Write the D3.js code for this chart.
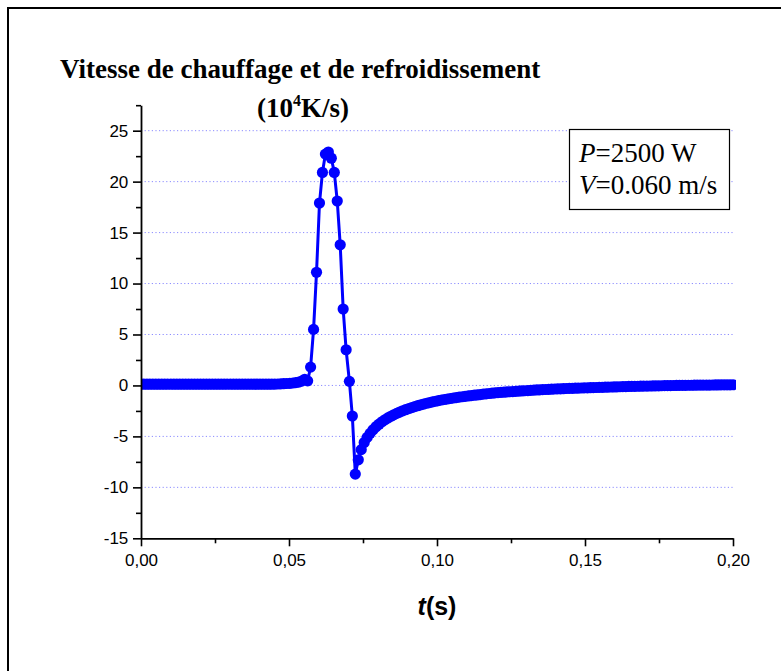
<!DOCTYPE html>
<html><head><meta charset="utf-8">
<script src="https://cdn.jsdelivr.net/npm/d3@7"></script>
<style>body{margin:0;background:#fff}</style>
</head><body>
<svg id="c" width="781" height="671"></svg>
<script>
// ---- data ----
const time = [
0,0.0010,0.0020,0.0030,0.0040,0.0050,0.0060,0.0070,0.0080,0.0090,
0.0101,0.0111,0.0121,0.0131,0.0141,0.0151,0.0161,0.0171,0.0181,0.0191,
0.0201,0.0211,0.0221,0.0231,0.0241,0.0251,0.0261,0.0271,0.0281,0.0291,
0.0302,0.0312,0.0322,0.0332,0.0342,0.0352,0.0362,0.0372,0.0382,0.0392,
0.0402,0.0412,0.0422,0.0432,0.0442,0.0452,0.0462,0.0472,0.0482,0.0492,
0.0503,0.0513,0.0523,0.0533,0.0543,0.0553,0.0563,0.0573,0.0583,0.0593,
0.0603,0.0613,0.0623,0.0633,0.0643,0.0653,0.0663,0.0673,0.0683,0.0693,
0.0704,0.0714,0.0724,0.0734,0.0744,0.0754,0.0764,0.0774,0.0784,0.0794,
0.0804,0.0814,0.0824,0.0834,0.0844,0.0854,0.0864,0.0874,0.0884,0.0894,
0.0905,0.0915,0.0925,0.0935,0.0945,0.0955,0.0965,0.0975,0.0985,0.0995,
0.1005,0.1015,0.1025,0.1035,0.1045,0.1055,0.1065,0.1075,0.1085,0.1095,
0.1106,0.1116,0.1126,0.1136,0.1146,0.1156,0.1166,0.1176,0.1186,0.1196,
0.1206,0.1216,0.1226,0.1236,0.1246,0.1256,0.1266,0.1276,0.1286,0.1296,
0.1307,0.1317,0.1327,0.1337,0.1347,0.1357,0.1367,0.1377,0.1387,0.1397,
0.1407,0.1417,0.1427,0.1437,0.1447,0.1457,0.1467,0.1477,0.1487,0.1497,
0.1508,0.1518,0.1528,0.1538,0.1548,0.1558,0.1568,0.1578,0.1588,0.1598,
0.1608,0.1618,0.1628,0.1638,0.1648,0.1658,0.1668,0.1678,0.1688,0.1698,
0.1709,0.1719,0.1729,0.1739,0.1749,0.1759,0.1769,0.1779,0.1789,0.1799,
0.1809,0.1819,0.1829,0.1839,0.1849,0.1859,0.1869,0.1879,0.1889,0.1899,
0.1910,0.1920,0.1930,0.1940,0.1950,0.1960,0.1970,0.1980,0.1990,0.2000
];
const rate = [
0.12,0.12,0.12,0.12,0.12,0.12,0.12,0.12,0.12,0.12,
0.12,0.12,0.12,0.12,0.12,0.12,0.12,0.12,0.12,0.12,
0.12,0.12,0.12,0.12,0.12,0.12,0.12,0.12,0.12,0.12,
0.12,0.12,0.12,0.12,0.12,0.12,0.12,0.12,0.12,0.12,
0.12,0.12,0.12,0.12,0.12,0.13,0.14,0.15,0.17,0.19,
0.21,0.24,0.28,0.33,0.42,0.60,0.45,1.8,5.5,11.1,
17.9,20.9,22.7,22.9,22.3,20.9,18.1,13.8,7.5,3.5,
0.4,-3.0,-8.7,-7.3,-6.3,-5.6,-5.1,-4.7,-4.35,-4.05,
-3.8,-3.57,-3.37,-3.19,-3.03,-2.88,-2.74,-2.61,-2.49,-2.38,
-2.27,-2.17,-2.08,-1.99,-1.91,-1.83,-1.75,-1.68,-1.61,-1.55,
-1.49,-1.43,-1.38,-1.33,-1.28,-1.23,-1.19,-1.15,-1.11,-1.07,
-1.03,-0.99,-0.96,-0.93,-0.90,-0.85,-0.82,-0.79,-0.76,-0.73,
-0.70,-0.68,-0.66,-0.64,-0.62,-0.60,-0.58,-0.56,-0.54,-0.52,
-0.50,-0.48,-0.46,-0.44,-0.43,-0.41,-0.40,-0.38,-0.37,-0.35,
-0.34,-0.33,-0.32,-0.30,-0.29,-0.28,-0.27,-0.26,-0.25,-0.24,
-0.23,-0.22,-0.21,-0.20,-0.19,-0.18,-0.17,-0.16,-0.155,-0.15,
-0.14,-0.13,-0.12,-0.11,-0.10,-0.095,-0.09,-0.08,-0.075,-0.07,
-0.06,-0.055,-0.05,-0.04,-0.035,-0.03,-0.02,-0.015,-0.01,-0.005,
0.0,0.005,0.01,0.015,0.02,0.02,0.025,0.03,0.03,0.035,
0.04,0.04,0.045,0.05,0.05,0.055,0.06,0.06,0.065,0.07
];
const xTicks = [0, 0.05, 0.10, 0.15, 0.20];
const xMinor = [0.025, 0.075, 0.125, 0.175];
const yTicks = [-15, -10, -5, 0, 5, 10, 15, 20, 25];
const yMinor = [-12.5, -7.5, -2.5, 2.5, 7.5, 12.5, 17.5, 22.5, 27.5];
const gridVals = [-10, -5, 0, 5, 10, 15, 20, 25];
const titleLine1 = "Vitesse de chauffage et de refroidissement";
const legendP = "2500 W";
const legendV = "0.060 m/s";

// ---- layout ----
const svg = d3.select("#c");
const X0 = 141, X1 = 733, YB = 538.3, YT = 105.2;
const x = d3.scaleLinear().domain([0, 0.2]).range([X0, X1]);
const y = d3.scaleLinear().domain([-15, 27.5]).range([YB, YT]);
const serif = "'Liberation Serif','Times New Roman',serif";
const sans = "'Liberation Sans',Arial,sans-serif";
const blue = "#0000ff";

// outer frame (top and left borders)
svg.append("line").attr("x1",8).attr("y1",8).attr("x2",781).attr("y2",8).attr("stroke","#000").attr("stroke-width",2);
svg.append("line").attr("x1",8).attr("y1",7).attr("x2",8).attr("y2",671).attr("stroke","#000").attr("stroke-width",2);

// grid
svg.append("g").selectAll("line").data(gridVals).join("line")
  .attr("x1", X0).attr("x2", X1)
  .attr("y1", d => y(d)).attr("y2", d => y(d))
  .attr("stroke", "#8c8cff").attr("stroke-width", 1)
  .attr("stroke-dasharray", "1.2,2.4");

// clip
svg.append("clipPath").attr("id","clip").append("rect")
  .attr("x", X0).attr("y", 0).attr("width", X1 - X0 + 3).attr("height", YB);

const pts = time.map((t, i) => [t, rate[i]]);
const plot = svg.append("g").attr("clip-path","url(#clip)");
plot.append("path").datum(pts)
  .attr("fill","none").attr("stroke",blue).attr("stroke-width",3)
  .attr("d", d3.line().x(d => x(d[0])).y(d => y(d[1])));
plot.append("g").selectAll("circle").data(pts).join("circle")
  .attr("cx", d => x(d[0])).attr("cy", d => y(d[1])).attr("r", 5.6).attr("fill", blue);

// axes
const fmtX = d => d3.format(".2f")(d).replace(".", ",");
const ax = svg.append("g").attr("transform",`translate(0,${YB})`)
  .call(d3.axisBottom(x).tickValues(xTicks).tickFormat(fmtX).tickSize(8).tickSizeOuter(0));
svg.append("g").attr("transform",`translate(0,${YB})`)
  .call(d3.axisBottom(x).tickValues(xMinor).tickFormat("").tickSize(5).tickSizeOuter(0))
  .select(".domain").remove();
const ay = svg.append("g").attr("transform",`translate(${X0},0)`)
  .call(d3.axisLeft(y).tickValues(yTicks).tickFormat(d => String(d)).tickSize(8).tickSizeOuter(0));
svg.append("g").attr("transform",`translate(${X0},0)`)
  .call(d3.axisLeft(y).tickValues(yMinor).tickFormat("").tickSize(5).tickSizeOuter(0))
  .select(".domain").remove();
svg.selectAll(".domain, .tick line").attr("stroke","#000").attr("stroke-width",1.6);
ax.selectAll("text").attr("font-family",sans).attr("font-size",17).attr("fill","#000").attr("dy","1.0em");
ay.selectAll("text").attr("font-family",sans).attr("font-size",17).attr("fill","#000").attr("dx","-0.1em");
svg.selectAll(".domain").attr("stroke-width",1.8);

// title
svg.append("text").attr("x",60).attr("y",78).attr("font-family",serif).attr("font-weight","bold")
  .attr("font-size",27).text(titleLine1);
const t2 = svg.append("text").attr("x",303).attr("y",117).attr("text-anchor","middle")
  .attr("font-family",serif).attr("font-weight","bold").attr("font-size",27);
t2.append("tspan").text("(10");
t2.append("tspan").attr("font-size",16).attr("dy",-11).text("4");
t2.append("tspan").attr("dy",11).text("K/s)");

// legend
svg.append("rect").attr("x",569.5).attr("y",129.5).attr("width",160).attr("height",80)
  .attr("fill","#fff").attr("stroke","#000").attr("stroke-width",1.2);
const l1 = svg.append("text").attr("x",579).attr("y",162).attr("font-family",serif).attr("font-size",27);
l1.append("tspan").attr("font-style","italic").text("P");
l1.append("tspan").text("=" + legendP);
const l2 = svg.append("text").attr("x",579).attr("y",194).attr("font-family",serif).attr("font-size",27);
l2.append("tspan").attr("font-style","italic").text("V");
l2.append("tspan").text("=" + legendV);

// x label
const xl = svg.append("text").attr("x",437).attr("y",615).attr("text-anchor","middle")
  .attr("font-family",sans).attr("font-weight","bold").attr("font-size",25);
xl.append("tspan").attr("font-style","italic").text("t");
xl.append("tspan").text("(s)");
</script>
</body></html>
